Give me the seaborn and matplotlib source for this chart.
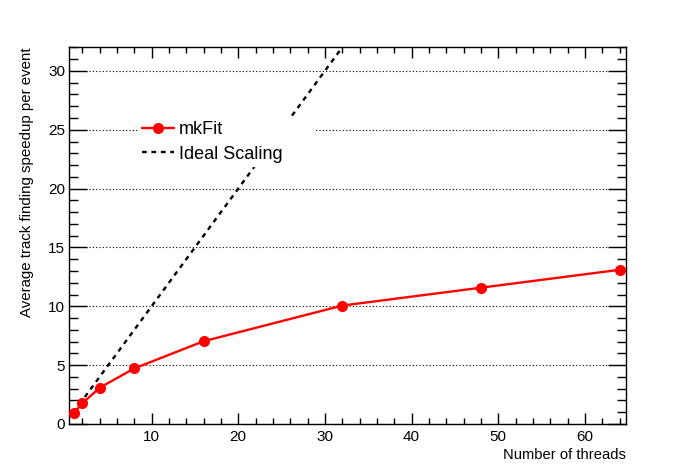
import matplotlib
matplotlib.use("Agg")
import matplotlib.pyplot as plt
from matplotlib.ticker import MultipleLocator
import seaborn as sns
import pandas as pd

# data
threads = [1, 2, 4, 8, 16, 32, 48, 64]
mkfit_speedup = [0.9, 1.75, 3.08, 4.72, 7.03, 10.06, 11.58, 13.1]
ideal_threads = [1, 2, 4, 8, 16, 32, 64]
ideal_speedup = [1, 2, 4, 8, 16, 32, 64]

df_mk = pd.DataFrame({"threads": threads, "speedup": mkfit_speedup})
df_ideal = pd.DataFrame({"threads": ideal_threads, "speedup": ideal_speedup})

sns.set_theme(style="ticks")
plt.rcParams["font.family"] = ["Liberation Sans", "DejaVu Sans"]

fig = plt.figure(figsize=(6.96, 4.72), dpi=100)
ax = fig.add_axes([0.0995, 0.1017, 0.8, 0.798])

sns.lineplot(data=df_mk, x="threads", y="speedup", ax=ax, color="red",
             marker="o", markersize=8, markeredgewidth=0, linewidth=1.7,
             label="mkFit", zorder=3)
sns.lineplot(data=df_ideal, x="threads", y="speedup", ax=ax, color="black",
             linewidth=1.7, label="Ideal Scaling", zorder=2)
ax.lines[-1].set_dashes([2.0, 2.0])

ax.set_xlim(0.5, 64.75)
ax.set_ylim(0, 32)

ax.xaxis.set_major_locator(MultipleLocator(10))
ax.xaxis.set_minor_locator(MultipleLocator(2))
ax.yaxis.set_major_locator(MultipleLocator(5))
ax.yaxis.set_minor_locator(MultipleLocator(1))

ax.tick_params(axis="both", which="both", direction="in", top=True, right=True,
               color="black", width=1.0, labelsize=11, labelcolor="black")
ax.tick_params(axis="x", which="major", length=8, pad=4)
ax.tick_params(axis="x", which="minor", length=4)
ax.tick_params(axis="y", which="major", length=13, pad=3)
ax.tick_params(axis="y", which="minor", length=6.5)
ax.set_yticks([0, 5, 10, 15, 20, 25, 30])

ax.yaxis.grid(True, which="major", linestyle=(0, (1, 2)), color="black", linewidth=0.8)
ax.xaxis.grid(False)

for sp in ax.spines.values():
    sp.set_color("black")
    sp.set_linewidth(1.0)

ax.set_xlabel("Number of threads", fontsize=10.6, color="black")
ax.xaxis.set_label_coords(1.0, -0.065)
ax.xaxis.label.set_horizontalalignment("right")
ax.set_ylabel("Average track finding speedup per event", fontsize=10.8, color="black")
ax.yaxis.set_label_coords(-0.063, 1.0)
ax.yaxis.label.set_horizontalalignment("right")

leg = ax.legend(loc="upper left", bbox_to_anchor=(0.124, 0.814, 0.316, 0.0),
                mode="expand", frameon=True, fancybox=False, framealpha=1,
                facecolor="white", edgecolor="white", fontsize=13,
                handlelength=1.75, handletextpad=0.3, labelspacing=0.42,
                borderpad=0.2, borderaxespad=0)
for t in leg.get_texts():
    t.set_color("black")

fig.savefig("out.png", dpi=100)
